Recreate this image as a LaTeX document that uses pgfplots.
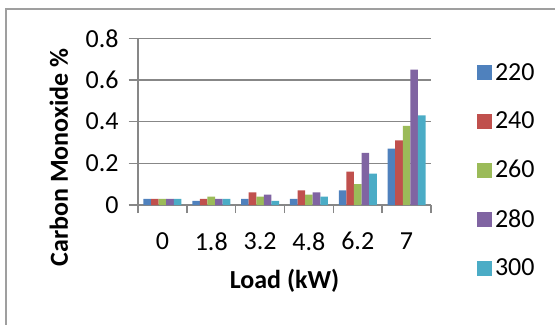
\documentclass[border=0pt]{standalone}
\usepackage{pgfplots}
\pgfplotsset{compat=1.18}
\usepackage{fontspec}
\setmainfont{Carlito}
\definecolor{c1}{HTML}{4F81BD}
\definecolor{c2}{HTML}{C0504D}
\definecolor{c3}{HTML}{9BBB59}
\definecolor{c4}{HTML}{8064A2}
\definecolor{c5}{HTML}{4BACC6}
\definecolor{gridc}{HTML}{878787}
\begin{document}
\begin{tikzpicture}
\path[use as bounding box] (0pt,0pt) rectangle (416.25pt,243pt);
\draw[color=gridc!80, line width=1.2pt] (4.5pt,-15pt) -- (4.5pt,236.25pt) -- (435pt,236.25pt);
\begin{axis}[
  at={(103.5pt,89.25pt)}, anchor=south west,
  scale only axis, width=219.75pt, height=125pt,
  ybar=0pt, bar width=5.7pt,
  xmin=-0.5, xmax=5.5, ymin=0, ymax=0.8,
  xtick={0,1,2,3,4,5},
  xticklabels={0,1.8,3.2,4.8,6.2,7},
  minor xtick={-0.5,0.5,1.5,2.5,3.5,4.5,5.5},
  major x tick style={draw=none},
  ytick={0,0.2,0.4,0.6,0.8},
  yticklabel style={/pgf/number format/fixed,/pgf/number format/precision=1},
  /pgf/number format/assume math mode=true,
  tick align=outside,
  major tick length=7pt,
  minor tick length=6pt,
  every tick/.style={gridc, line width=1.2pt},
  ymajorgrids,
  grid style={gridc, line width=1.2pt},
  axis line style={gridc, line width=1.2pt},
  axis x line*=bottom, axis y line*=left,
  tick label style={font=\fontsize{19.5}{23}\selectfont},
  yticklabel style={xshift=-4pt},
  xticklabel style={yshift=-10pt},
  xlabel={\textbf{Load (kW)}},
  ylabel={\textbf{Carbon Monoxide \%}},
  label style={font=\fontsize{19.5}{23}\selectfont},
  xlabel style={at={(axis description cs:0.5,-0.456)}, anchor=center},
  ylabel style={at={(axis description cs:-0.27,0.285)}, anchor=center},
  legend style={at={(axis description cs:1.155,0.867)}, anchor=north west, draw=none, fill=none,
    font=\fontsize{19.5}{23}\selectfont, row sep=18.2pt, inner sep=0pt, cells={anchor=west},
    nodes={inner xsep=2.5pt}},
  legend image code/.code={\fill[#1] (0pt,-5.6pt) rectangle (11.25pt,5.6pt);},
  clip=false,
]
\addplot[fill=c1, draw=none] coordinates {(0,0.03) (1,0.02) (2,0.03) (3,0.03) (4,0.07) (5,0.27)};
\addplot[fill=c2, draw=none] coordinates {(0,0.03) (1,0.03) (2,0.06) (3,0.07) (4,0.16) (5,0.31)};
\addplot[fill=c3, draw=none] coordinates {(0,0.03) (1,0.04) (2,0.04) (3,0.05) (4,0.10) (5,0.38)};
\addplot[fill=c4, draw=none] coordinates {(0,0.03) (1,0.03) (2,0.05) (3,0.06) (4,0.25) (5,0.65)};
\addplot[fill=c5, draw=none] coordinates {(0,0.03) (1,0.03) (2,0.02) (3,0.04) (4,0.15) (5,0.43)};
\legend{220,240,260,280,300}
\end{axis}
\end{tikzpicture}
\end{document}
